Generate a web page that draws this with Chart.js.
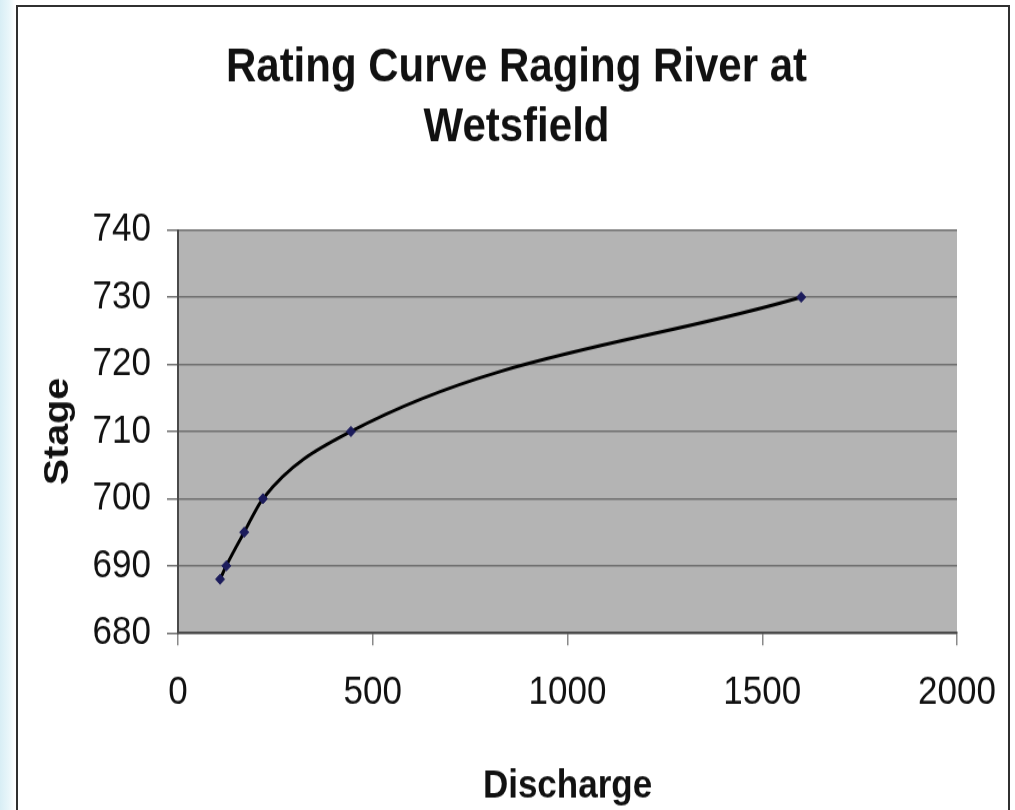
<!DOCTYPE html>
<html>
<head>
<meta charset="utf-8">
<script src="https://cdn.jsdelivr.net/npm/chart.js@4"></script>
<style>
	html, body {
		margin: 0;
		padding: 0;
		width: 1015px;
		height: 810px;
		overflow: hidden;
		background: linear-gradient(to right, #d8eef5 0px, #e9f6fa 9px, #ffffff 15px, #ffffff 100%);
	}
	#frame {
		position: absolute;
		left: 16px;
		top: 5px;
		width: 994px;
		height: 830px;
		border: 2px solid #303030;
		background: #ffffff;
		box-sizing: border-box;
	}
	/* the chart is drawn a little squat and stretched tall, like the tall lettering of the sheet */
	#wrap {
		position: absolute;
		left: 0;
		top: 0;
		width: 1015px;
		height: 717px;
		transform: scaleY(1.1297);
		transform-origin: 0 0;
	}
</style>
</head>
<body>
<div id="frame"></div>
<div id="wrap"><canvas id="rating-chart"></canvas></div>
<script>
const ratingCanvas = document.getElementById('rating-chart');

// measured points (discharge vs. stage)
const discharge = [108, 124, 170, 218, 444, 1600];
const stage = [688, 690, 695, 700, 710, 730];

const xTicks = [0, 500, 1000, 1500, 2000];
const yTicks = [680, 690, 700, 710, 720, 730, 740];

const fontFamily = "'Liberation Sans', Arial, sans-serif";

// grey fill behind the plot area
const plotBackground = {
	id: 'plotBackground',
	beforeDraw(chart) {
		const { ctx, chartArea } = chart;
		ctx.save();
		ctx.fillStyle = '#b4b4b4';
		ctx.fillRect(chartArea.left, chartArea.top, chartArea.width, chartArea.height);
		ctx.restore();
	}
};

const ratingData = {
	datasets: [{
		data: discharge.map((x, i) => ({ x: x, y: stage[i] })),
		showLine: true,
		borderColor: '#000000',
		borderWidth: 3,
		cubicInterpolationMode: 'monotone',
		pointStyle: 'rectRot',
		pointRadius: 4.5,
		pointBackgroundColor: '#1c1c5c',
		pointBorderColor: '#1c1c5c',
		pointBorderWidth: 1
	}]
};

const ratingOptions = {
	responsive: true,
	maintainAspectRatio: false,
	animation: false,
	layout: {
		padding: { left: 76, top: 0, right: 58, bottom: 0 }
	},
	scales: {
		x: {
			type: 'linear',
			min: xTicks[0],
			max: xTicks[xTicks.length - 1],
			afterBuildTicks: scale => { scale.ticks = xTicks.map(v => ({ value: v })); },
			afterFit: scale => {
				scale.height = 156.7;
				scale.paddingLeft = 0;
				scale.paddingRight = 0;
			},
			border: { color: '#4a4a4a', width: 2 },
			grid: {
				drawOnChartArea: false,
				drawTicks: true,
				tickLength: 11,
				color: '#8a8a8a',
				lineWidth: 1.5
			},
			ticks: {
				padding: 21,
				color: '#111111',
				font: { family: fontFamily, size: 35 },
				callback: value => String(value)
			},
			title: {
				display: true,
				text: 'Discharge',
				color: '#111111',
				padding: { top: 20.6, bottom: 0 },
				font: { family: fontFamily, size: 35, weight: 'bold' }
			}
		},
		y: {
			type: 'linear',
			min: yTicks[0],
			max: yTicks[yTicks.length - 1],
			afterBuildTicks: scale => { scale.ticks = yTicks.map(v => ({ value: v })); },
			afterFit: scale => { scale.width = 102; },
			border: { color: '#4a4a4a', width: 2 },
			grid: {
				drawTicks: true,
				tickLength: 11,
				color: '#6e6e6e',
				lineWidth: 1.5
			},
			ticks: {
				padding: 16,
				color: '#111111',
				font: { family: fontFamily, size: 35 },
				callback: value => String(value)
			},
			title: {
				display: true,
				text: 'Stage',
				color: '#111111',
				padding: { top: -39, bottom: 0 },
				font: { family: fontFamily, size: 35, weight: 'bold' }
			}
		}
	},
	plugins: {
		legend: { display: false },
		tooltip: { enabled: false },
		title: {
			display: true,
			text: ['Rating Curve Raging River at', 'Wetsfield'],
			color: '#111111',
			padding: { top: 34, bottom: 63.4 },
			font: { family: fontFamily, size: 42, weight: 'bold', lineHeight: 1.264 }
		}
	}
};

const ratingChart = new Chart(ratingCanvas, {
	type: 'scatter',
	data: ratingData,
	options: ratingOptions,
	plugins: [plotBackground]
});
</script>
</body>
</html>
